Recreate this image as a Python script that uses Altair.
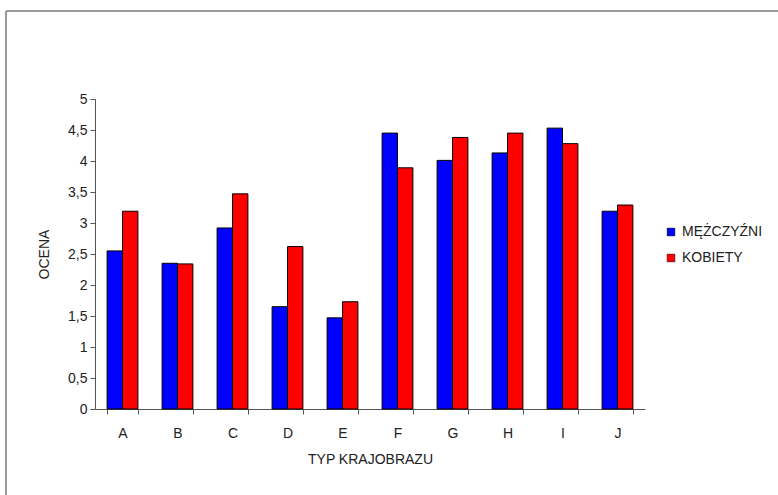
import altair as alt
import pandas as pd

categories = ["A", "B", "C", "D", "E", "F", "G", "H", "I", "J"]
mezczyzni = [2.55, 2.35, 2.92, 1.65, 1.47, 4.45, 4.01, 4.13, 4.53, 3.19]
kobiety = [3.19, 2.34, 3.47, 2.62, 1.73, 3.89, 4.38, 4.45, 4.28, 3.29]
series = ["MĘŻCZYŹNI", "KOBIETY"]
colors = ["#0000FF", "#FF0000"]
y_ticks = [0, 0.5, 1, 1.5, 2, 2.5, 3, 3.5, 4, 4.5, 5]

rows = []
for i, c in enumerate(categories):
    rows.append({"typ": c, "grupa": series[0], "ocena": mezczyzni[i]})
    rows.append({"typ": c, "grupa": series[1], "ocena": kobiety[i]})
df = pd.DataFrame(rows)

FONT = "Liberation Sans"
TXT = "#222222"
FS = 14

bars = alt.Chart(df).mark_bar(stroke="#000000", strokeWidth=1).encode(
    x=alt.X("typ:N", sort=categories,
            scale=alt.Scale(paddingInner=0.44, paddingOuter=0.22),
            axis=alt.Axis(title="TYP KRAJOBRAZU", labelAngle=0, tickBand="extent",
                          labelPadding=12, titlePadding=12, tickSize=5,
                          domainColor="#555555", tickColor="#555555",
                          labelFontSize=FS, titleFontSize=FS, titleFontWeight="normal",
                          labelColor=TXT, titleColor=TXT, grid=False)),
    xOffset=alt.XOffset("grupa:N", sort=series),
    y=alt.Y("ocena:Q", scale=alt.Scale(domain=[0, 5]),
            axis=alt.Axis(title="OCENA", values=y_ticks,
                          labelExpr="replace(format(datum.value, '.1~f'), '.', ',')",
                          tickSize=5, labelPadding=3, titlePadding=16,
                          domainColor="#555555", tickColor="#555555",
                          labelFontSize=FS, titleFontSize=FS, titleFontWeight="normal",
                          labelColor=TXT, titleColor=TXT, grid=False)),
    color=alt.Color("grupa:N", sort=series,
                    scale=alt.Scale(domain=series, range=colors),
                    legend=alt.Legend(title=None, orient="none", legendX=569, legendY=126,
                                      symbolType="square", symbolSize=60,
                                      symbolStrokeColor="#000000", symbolStrokeWidth=0.5,
                                      labelFontSize=FS, labelColor=TXT,
                                      rowPadding=12, labelLimit=200)),
)

frame_top = alt.Chart(df).mark_rule(color="#9a9a9a", strokeWidth=2).encode(
    x=alt.value(-89), x2=alt.value(700), y=alt.value(-88)
)
frame_left = alt.Chart(df).mark_rule(color="#9a9a9a", strokeWidth=2).encode(
    x=alt.value(-89), y=alt.value(-88), y2=alt.value(400)
)

chart = alt.layer(frame_top, frame_left, bars).properties(
    width=550, height=310,
    autosize=alt.AutoSizeParams(type="none"),
    padding={"left": 95, "top": 99, "right": 133, "bottom": 86},
    background="#ffffff",
).configure(font=FONT).configure_view(strokeWidth=0, stroke="transparent")

chart.save("out.html", embed_options={"renderer": "svg", "actions": False})
